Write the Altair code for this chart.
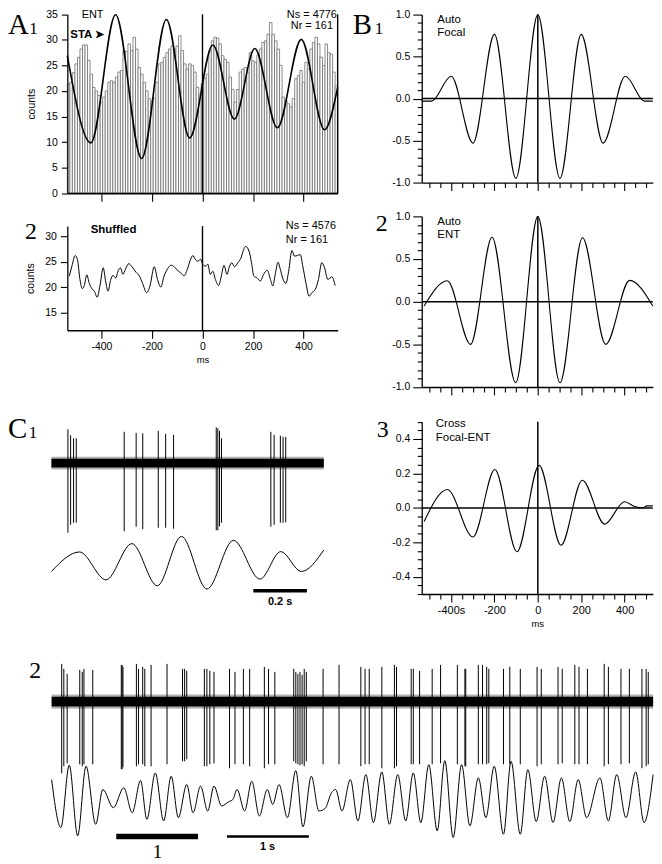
import altair as alt
import pandas as pd

W, H = 650, 856
SANS = "Liberation Sans"
SERIF = "Liberation Serif"
MINUS_FIX = "replace(datum.label, '\u2212', '-')"

# ======================= DATA =======================
# A1 : ENT spike histogram (10 ms bins) and STA
A1_BIN_LEFT = list(range(-535, 535, 10))
A1_BIN_WIDTH = 10
A1_COUNTS = [21.4, 21.7, 23.6, 25.3, 26.6, 28.2, 29.0, 29.0, 26.0, 23.3,
             20.7, 20.0,
             19.1, 17.8, 18.8, 20.0, 21.7, 22.0, 21.7, 22.7, 23.7,
             24.0, 27.9, 27.7, 29.2, 27.9, 30.5, 28.2, 24.6, 23.3, 21.7, 20.0,
             18.5, 18.0,
             18.6, 21.7, 25.3, 25.6, 26.6, 27.5, 28.2, 28.8, 28.2,
             28.8, 30.8, 27.9, 25.3, 24.3, 25.3, 25.0, 23.7, 20.7, 19.4,
             21.4, 22.5,
             23.3, 27.9, 29.8, 30.5, 30.3, 29.2, 26.9, 26.2, 25.6,
             22.7, 20.3, 17.8, 20.3, 23.7, 24.3, 24.6, 23.7, 27.5, 25.9,
             25.6, 27.0,
             28.2, 29.5, 29.8, 31.1, 33.4, 31.1, 29.8, 28.2, 25.0,
             18.8, 18.1, 17.5, 16.9, 18.5, 22.4, 23.0, 24.0, 21.7, 25.6, 24.3,
             28.2, 29.5,
             30.5, 29.2, 26.6, 25.0, 29.2, 27.5, 27.2,
             23.7, 21.0]
A1_STA_MS = [-535, -442, -344, -241, -143, -51, 41, 126, 207, 296, 391, 483, 535]
A1_STA = [26.9, 9.85, 34.9, 6.8, 34.0, 10.8, 29.0, 14.5, 28.3, 12.8, 30.1, 12.4, 20.7]

# A2 : shuffled histogram (smoothed)
A2_MS = [-527, -517, -504, -495, -485, -476, -468, -458, -448, -438, -428, -417, -406, -393,
         -383, -374, -363, -354, -344, -333, -325, -315, -305, -292, -279, -263, -250, -237,
         -221, -208, -191, -178, -165, -152, -138, -125, -112, -99, -86, -73, -60, -47, -38,
         -28, -17, -8, 1, 12, 21, 31, 41, 51, 64, 73, 85, 97, 107, 116, 127, 140, 152, 163,
         171, 184, 194, 203, 216, 229, 242, 256, 269, 278, 288, 299, 308, 317, 330, 341, 354,
         364, 376, 387, 397, 409, 422, 433, 446, 459, 472, 483, 496, 512, 525]
A2_COUNTS = [22.2, 24.1, 26.2, 25.4, 21.5, 19.7, 20.3, 22.4, 20.7, 19.7, 19.2, 18.0, 20.2, 23.8,
             21.0, 19.2, 21.5, 22.3, 21.8, 23.3, 23.8, 22.5, 23.5, 24.6, 24.0, 22.9, 22.2, 20.7,
             18.9, 20.2, 24.0, 21.5, 20.0, 22.2, 23.6, 24.3, 24.0, 23.3, 22.8, 22.2, 23.5, 25.5,
             26.2, 25.4, 25.1, 25.5, 24.5, 24.1, 24.5, 22.5, 23.1, 21.5, 20.3, 21.8, 24.3, 22.5,
             24.1, 24.8, 24.0, 24.8, 25.7, 27.4, 28.0, 27.1, 24.8, 22.2, 21.8, 21.2, 22.5, 23.3,
             21.5, 20.2, 22.5, 24.9, 23.5, 21.8, 20.7, 23.1, 27.2, 26.1, 26.2, 26.4, 24.1, 20.9,
             18.2, 18.9, 19.5, 21.5, 24.8, 23.8, 21.5, 22.0, 20.3]

# B : correlation functions
B1_MS = [-535, -490, -399, -299, -200, -101, 0, 102, 200, 301, 403, 492, 530]
B1_R = [-0.03, -0.03, 0.266, -0.53, 0.765, -0.95, 1.0, -0.95, 0.765, -0.53, 0.266, -0.03, -0.03]
B2_MS = [-524, -417, -310, -211, -102, 0, 102, 206, 313, 423, 530]
B2_R = [-0.05, 0.245, -0.5, 0.755, -0.95, 1.0, -0.95, 0.75, -0.5, 0.25, -0.05]
B3_MS = [-524, -417, -299, -198, -96, 6, 107, 205, 308, 400, 446, 483, 503, 530]
B3_R = [-0.079, 0.107, -0.169, 0.223, -0.255, 0.247, -0.217, 0.161, -0.094, 0.036, 0.008, 0.0, 0.012, 0.012]

# C1 : 1 s of unit activity (s) and filtered field
C1_DUR = 1.016
C1_NOISE = 4.5
C1_SPIKE_T = [0.0615, 0.0715, 0.0826, 0.0926, 0.2715, 0.316, 0.3407, 0.3985, 0.426, 0.4556,
              0.6148, 0.6207, 0.627, 0.6344, 0.8185, 0.8307, 0.854, 0.864, 0.874]
C1_SPIKE_UP = [34, 28, 25, 25, 31.5, 30.5, 30, 32.5, 29.5, 28.5, 36, 35, 32.5, 25, 31.5, 28.5,
               27.5, 26.5, 26.5]
C1_SPIKE_DN = [-70, -62, -60, -60, -68.5, -64, -66.5, -65, -65, -66, -67.5, -67.5, -63.5, -60,
               -64, -62, -60, -60, -59.5]
C1_LFP_T = [0.0, 0.1048, 0.2037, 0.300, 0.3949, 0.485, 0.580, 0.679, 0.7778, 0.8556, 0.932, 1.016]
C1_LFP_V = [-9.3, 10.3, -17.7, 18.7, -23.7, 26.0, -27.0, 22.0, -17.0, 10.7, -9.3, 12.3]
C1_BAR = [0.753, 0.953]
C1_BAR_V = -28.7

# C2 : 7.4 s of unit activity and filtered field
C2_DUR = 7.38
C2_NOISE = 5.0
C2_SPIKE_T = [0.1237, 0.1495, 0.1906, 0.3451, 0.3760, 0.3966, 0.5046, 0.8547, 0.8650, 0.8753,
              1.0400, 1.0658, 1.1173, 1.1430, 1.2202, 1.4158, 1.6063, 1.6320, 1.6578, 1.8740,
              1.9049, 1.9409, 1.9924, 2.1828, 2.2497, 2.3527, 2.4299, 2.6101, 2.6615, 2.7387,
              2.9704, 2.9961, 3.0219, 3.0476, 3.0734, 3.0991, 3.1249, 3.3308, 3.5264, 3.7941,
              3.8456, 3.8971, 4.0515, 4.2059, 4.2317, 4.4118, 4.4376, 4.5148, 4.6692, 4.7722,
              4.9781, 5.0707, 5.0810, 5.2355, 5.2869, 5.3384, 5.3642, 5.5444, 5.6216, 5.7503,
              5.9562, 6.0077, 6.2136, 6.2651, 6.4195, 6.4710, 6.5740, 6.7799, 6.8314, 6.9858,
              7.0888, 7.2432, 7.2947, 7.3205]
C2_SPIKE_UP = [38, 33, 28, 32, 30, 33, 32, 37, 37, 35, 38, 33, 35, 33, 37, 38, 33, 33, 31, 33,
               33, 31, 30, 33, 30, 33, 33, 35, 33, 30, 33, 30, 28, 30, 27, 33, 30, 33, 37, 35,
               33, 33, 35, 37, 35, 33, 33, 31, 33, 37, 37, 33, 33, 37, 37, 35, 33, 33, 35, 33,
               35, 33, 35, 33, 37, 35, 33, 38, 35, 33, 33, 33, 33, 30]
C2_SPIKE_DN = [-72, -65, -62, -63, -65, -63, -63, -68, -68, -66, -65, -63, -63, -65, -65, -63,
               -60, -60, -58, -65, -65, -63, -62, -67, -63, -63, -65, -67, -63, -63, -60, -62,
               -63, -64, -63, -65, -60, -63, -63, -65, -63, -63, -67, -67, -65, -63, -63, -63,
               -63, -62, -63, -65, -65, -63, -63, -63, -62, -63, -63, -63, -65, -63, -63, -62,
               -63, -63, -63, -65, -63, -63, -62, -67, -65, -63]
C2_LFP_T = [0.0, 0.1134, 0.2164, 0.3193, 0.4223, 0.5407, 0.6282, 0.7569, 0.8856, 0.9886,
            1.0915, 1.1688, 1.2717, 1.3746, 1.4673, 1.5548, 1.6578, 1.7350, 1.8276, 1.9151,
            1.9924, 2.0850, 2.1725, 2.2240, 2.2755, 2.3681, 2.4556, 2.5483, 2.6461, 2.7130,
            2.7902, 2.8932, 2.9961, 3.0837, 3.1866, 3.2793, 3.3565, 3.4337, 3.4852, 3.5624,
            3.6653, 3.7580, 3.8558, 3.9484, 4.0514, 4.1441, 4.2470, 4.3448, 4.4375, 4.5302,
            4.628, 4.731, 4.824, 4.927, 5.030, 5.132, 5.236, 5.328, 5.431, 5.544, 5.637, 5.750,
            5.843, 5.946, 6.049, 6.152, 6.255, 6.358, 6.461, 6.564, 6.728, 6.831, 6.934, 7.047,
            7.166, 7.269, 7.38]
C2_LFP_V = [18.3, -30, 32.7, -38.3, 31.7, -26.7, 8.3, -10, 10, -15, 17.3, -21.7, 25, -23.3,
            21.7, -20, 13.3, -15, 11.7, -13.3, 11.7, -8.3, -4, -1.7, 8.3, -13.3, 16.7, -18.3,
            8.3, -6.7, 13.3, -20, 27.3, -29.3, 21.7, -13.3, -10.7, 5, 8.3, -13.3, 18.3, -23.3,
            23.3, -25, 26, -26.7, 23.3, -23.3, 25, -25, 33.3, -33.3, 37.3, -40, 33.3, -28.3,
            20, -20, 31.7, -36.7, 36.7, -36.7, 28.3, -24, 21.7, -25, 20, -24, 18.3, -20, 20,
            -23.3, 23.3, -20, 26, -25, 23.3]
C2_BAR_THICK = [0.793, 1.796]
C2_BAR_THIN = [2.152, 3.156]
C2_BAR_V = -39

# ======================= LAYOUT (pixels) =======================
A_DOM = [-535, 535]
A_X = [59.7, 331.7]
A1_Y = [183.7, 3.7]
A2_Y = [321.6, 216.8]
B_DOM = [-535, 530]
B_X = [416.3, 648.8]
B1_Y = [173, 4]
B2_Y = [378.7, 207]
B3_Y = [587, 413.7]
C1_X = [43.7, 317.75]
C1S_Y = [535.3, 415.3]
C1L_Y = [605, 525]
C2_X = [43.9, 649.1]
C2S_Y = [775.3, 645.3]
C2L_Y = [852, 747]

MS_TICKS = [-400, -200, 0, 200, 400]
MS_MINOR = [-500, -450, -350, -300, -250, -150, -100, -50, 50, 100, 150, 250, 300, 350, 450, 500]
R_TICKS = [-1.0, -0.5, 0.0, 0.5, 1.0]
R_MINOR = [-0.9, -0.8, -0.7, -0.6, -0.4, -0.3, -0.2, -0.1, 0.1, 0.2, 0.3, 0.4, 0.6, 0.7, 0.8, 0.9]
X_TICKS = [-0.4, -0.2, 0.0, 0.2, 0.4]
X_MINOR = [-0.5, -0.45, -0.35, -0.3, -0.25, -0.15, -0.1, -0.05, 0.05, 0.1, 0.15, 0.25, 0.3,
           0.35, 0.45, 0.5]


def ax(orient, off, values, labels=True, tick=8, **kw):
    d = dict(orient=orient, offset=off, values=values, labels=labels, tickSize=tick,
             title=None, grid=False, domainColor='black', tickColor='black',
             labelColor='black', labelFont=SANS, labelFontSize=10.5,
             domainWidth=1.3, tickWidth=1.1, labelPadding=3, zindex=1)
    d.update(kw)
    return alt.Axis(**d)


def lin(dom, rng):
    return alt.Scale(domain=dom, range=rng, zero=False, nice=False)


def texts(df, xs, ys, **mk):
    base = dict(font=SANS, fontSize=11, color='black', baseline='middle')
    base.update(mk)
    return alt.Chart(df).mark_text(**base).encode(
        x=alt.X('x:Q', scale=xs), y=alt.Y('y:Q', scale=ys), text='t:N')


# ---------------- A1 ----------------
a1x, a1y = lin(A_DOM, A_X), lin([0, 35], A1_Y)
df_a1 = pd.DataFrame({'left': A1_BIN_LEFT,
                      'right': [b + A1_BIN_WIDTH for b in A1_BIN_LEFT],
                      'count': A1_COUNTS, 'base': [0] * len(A1_COUNTS)})
a1_bars = alt.Chart(df_a1).mark_rect(fill='white', stroke='#6e6e6e', strokeWidth=0.8).encode(
    x=alt.X('left:Q', scale=a1x,
            axis=ax('bottom', A1_Y[0] - H, MS_TICKS, labels=False, tick=8, domainWidth=1.8)),
    x2='right:Q',
    y=alt.Y('count:Q', scale=a1y,
            axis=ax('left', -A_X[0], [0, 5, 10, 15, 20, 25, 30, 35], tick=6, labelPadding=4,
                    title='counts', titleFont=SANS, titleFontSize=10.5, titleFontWeight='normal',
                    titleColor='black', titlePadding=9)),
    y2='base:Q')
a1_sta = alt.Chart(pd.DataFrame({'ms': A1_STA_MS, 'v': A1_STA})).mark_line(
    color='black', strokeWidth=1.6, interpolate='monotone').encode(
    x=alt.X('ms:Q', scale=a1x), y=alt.Y('v:Q', scale=a1y))
a1_rules = alt.Chart(pd.DataFrame({'x': [0, A_DOM[1]], 'y1': [0, 0], 'y2': [35, 35]})).mark_rule(
    color='black', strokeWidth=1.4).encode(
    x=alt.X('x:Q', scale=a1x), y=alt.Y('y1:Q', scale=a1y), y2='y2:Q')
a1_t1 = texts(pd.DataFrame({'x': [-435, 433, 433], 'y': [34.94, 34.94, 32.7],
                            't': ['ENT', 'Ns = 4776', 'Nr = 161']}), a1x, a1y, align='center')
a1_t2 = texts(pd.DataFrame({'x': [-523], 'y': [31.0], 't': ['STA \u27a4']}), a1x, a1y,
              align='left', fontWeight='bold', fontSize=11.5)
A1 = alt.layer(a1_bars, a1_sta, a1_rules, a1_t1, a1_t2)

# ---------------- A2 ----------------
a2x, a2y = lin(A_DOM, A_X), lin([11.5, 32], A2_Y)
a2_line = alt.Chart(pd.DataFrame({'ms': A2_MS, 'v': A2_COUNTS})).mark_line(
    color='black', strokeWidth=1.0, interpolate='monotone').encode(
    x=alt.X('ms:Q', scale=a2x,
            axis=ax('bottom', A2_Y[0] - H, MS_TICKS, tick=8, labelExpr=MINUS_FIX, title='ms',
                    titleFont=SANS, titleFontSize=9.5, titleFontWeight='normal',
                    titleColor='black', titlePadding=3)),
    y=alt.Y('v:Q', scale=a2y,
            axis=ax('left', -A_X[0], [15, 20, 25, 30], tick=7, labelPadding=4, title='counts',
                    titleFont=SANS, titleFontSize=10.5, titleFontWeight='normal',
                    titleColor='black', titlePadding=9)))
a2_rule = alt.Chart(pd.DataFrame({'x': [0], 'y1': [11.5], 'y2': [32]})).mark_rule(
    color='black', strokeWidth=1.4).encode(
    x=alt.X('x:Q', scale=a2x), y=alt.Y('y1:Q', scale=a2y), y2='y2:Q')
a2_t1 = texts(pd.DataFrame({'x': [-352], 'y': [31.3], 't': ['Shuffled']}), a2x, a2y,
              align='center', fontWeight='bold', fontSize=11.5)
a2_t2 = texts(pd.DataFrame({'x': [330, 330], 'y': [32.0, 29.2],
                            't': ['Ns = 4576', 'Nr = 161']}), a2x, a2y, align='left')
A2 = alt.layer(a2_line, a2_rule, a2_t1, a2_t2)


# ---------------- B panels ----------------
def b_panel(ms, r, yrng, ydom, yticks, ylab, xlabels, words, wx, wy, last=False):
    bx, by = lin(B_DOM, B_X), lin(ydom, yrng)
    xkw = dict(labelExpr="datum.value == -400 ? '-400s' : " + MINUS_FIX, title='ms',
               titleFont=SANS, titleFontSize=9.5, titleFontWeight='normal', titleColor='black',
               titlePadding=3, labelFontSize=11) if last else {}
    line = alt.Chart(pd.DataFrame({'ms': ms, 'r': r})).mark_line(
        color='black', strokeWidth=1.1, interpolate='monotone').encode(
        x=alt.X('ms:Q', scale=bx, axis=ax('bottom', yrng[0] - H, MS_TICKS, labels=xlabels,
                                            tick=8, **xkw)),
        y=alt.Y('r:Q', scale=by, axis=ax('left', -B_X[0], yticks, tick=9, labelExpr=ylab)))
    hr = alt.Chart(pd.DataFrame({'y': [0], 'x1': [B_DOM[0]], 'x2': [B_DOM[1]]})).mark_rule(
        color='black', strokeWidth=1.5).encode(
        y=alt.Y('y:Q', scale=by), x=alt.X('x1:Q', scale=bx), x2='x2:Q')
    vr = alt.Chart(pd.DataFrame({'x': [0], 'y1': [ydom[0]], 'y2': [ydom[1]]})).mark_rule(
        color='black', strokeWidth=1.5).encode(
        x=alt.X('x:Q', scale=bx), y=alt.Y('y1:Q', scale=by), y2='y2:Q')
    tx = texts(pd.DataFrame({'x': [wx, wx], 'y': wy, 't': words}), bx, by, align='left',
               fontSize=11.5)
    return alt.layer(line, hr, vr, tx)


def b_minor(yrng, ydom, yminor):
    bx, by = lin(B_DOM, B_X), lin(ydom, yrng)
    return alt.Chart(pd.DataFrame({'ms': [0], 'r': [0]})).mark_point(opacity=0).encode(
        x=alt.X('ms:Q', scale=bx, axis=ax('bottom', yrng[0] - H, MS_MINOR, labels=False,
                                            tick=5, domain=False)),
        y=alt.Y('r:Q', scale=by, axis=ax('left', -B_X[0], yminor, labels=False, tick=4.5,
                                           domain=False)))


YLAB = "replace(format(datum.value, '.1f'), '\u2212', '-')"
B1 = b_panel(B1_MS, B1_R, B1_Y, [-1, 1], R_TICKS, YLAB, False, ['Auto', 'Focal'],
             -463, [0.933, 0.776])
B2 = b_panel(B2_MS, B2_R, B2_Y, [-1, 1], R_TICKS, YLAB, False, ['Auto', 'ENT'],
             -463, [0.93, 0.78])
B3 = b_panel(B3_MS, B3_R, B3_Y, [-0.5, 0.5], X_TICKS, YLAB, True, ['Cross', 'Focal-ENT'],
             -470, [0.487, 0.407], last=True)
B1m = b_minor(B1_Y, [-1, 1], R_MINOR)
B2m = b_minor(B2_Y, [-1, 1], R_MINOR)
B3m = b_minor(B3_Y, [-0.5, 0.5], X_MINOR)


# ---------------- C panels ----------------
def trace_panels(dur, xr, sy, ly, ydom_s, ydom_l, noise, st, su, sd, lt, lv):
    cx = lin([0, dur], xr)
    cs = lin(ydom_s, sy)
    cl = lin(ydom_l, ly)
    band = alt.Chart(pd.DataFrame({'t0': [0], 't1': [dur], 'lo': [-noise], 'hi': [noise]})
                     ).mark_rect(color='black').encode(
        x=alt.X('t0:Q', scale=cx, axis=None), x2='t1:Q',
        y=alt.Y('lo:Q', scale=cs, axis=None), y2='hi:Q')
    fringe = alt.Chart(pd.DataFrame({'t0': [0], 't1': [dur], 'lo': [-noise * 1.45],
                                     'hi': [noise * 1.45]})).mark_rect(
        color='black', opacity=0.3).encode(
        x=alt.X('t0:Q', scale=cx, axis=None), x2='t1:Q',
        y=alt.Y('lo:Q', scale=cs, axis=None), y2='hi:Q')
    spikes = alt.Chart(pd.DataFrame({'t': st, 'up': su, 'dn': sd})).mark_rule(
        color='black', strokeWidth=1).encode(
        x=alt.X('t:Q', scale=cx, axis=None), y=alt.Y('up:Q', scale=cs, axis=None), y2='dn:Q')
    lfp = alt.Chart(pd.DataFrame({'t': lt, 'v': lv})).mark_line(
        color='black', strokeWidth=1, interpolate='monotone').encode(
        x=alt.X('t:Q', scale=cx, axis=None), y=alt.Y('v:Q', scale=cl, axis=None))
    return alt.layer(fringe, band, spikes), cx, cl, lfp


C1S, c1x, c1l, c1_lfp = trace_panels(C1_DUR, C1_X, C1S_Y, C1L_Y, [-80, 40], [-50, 30], C1_NOISE,
                                     C1_SPIKE_T, C1_SPIKE_UP, C1_SPIKE_DN, C1_LFP_T, C1_LFP_V)
c1_bar = alt.Chart(pd.DataFrame({'a': [C1_BAR[0]], 'b': [C1_BAR[1]], 'v': [C1_BAR_V]})).mark_rule(
    color='black', strokeWidth=3.5).encode(
    x=alt.X('a:Q', scale=c1x, axis=None), x2='b:Q', y=alt.Y('v:Q', scale=c1l, axis=None))
c1_txt = alt.Chart(pd.DataFrame({'x': [0.853], 'y': [-40], 't': ['0.2 s']})).mark_text(
    font=SANS, fontSize=11, fontWeight='bold', align='center', baseline='middle').encode(
    x=alt.X('x:Q', scale=c1x, axis=None), y=alt.Y('y:Q', scale=c1l, axis=None), text='t:N')
C1L = alt.layer(c1_lfp, c1_bar, c1_txt)

C2S, c2x, c2l, c2_lfp = trace_panels(C2_DUR, C2_X, C2S_Y, C2L_Y, [-80, 50], [-60, 45], C2_NOISE,
                                     C2_SPIKE_T, C2_SPIKE_UP, C2_SPIKE_DN, C2_LFP_T, C2_LFP_V)
c2_bar1 = alt.Chart(pd.DataFrame({'a': [C2_BAR_THICK[0]], 'b': [C2_BAR_THICK[1]],
                                  'v': [C2_BAR_V]})).mark_rule(
    color='black', strokeWidth=5.5).encode(
    x=alt.X('a:Q', scale=c2x, axis=None), x2='b:Q', y=alt.Y('v:Q', scale=c2l, axis=None))
c2_bar2 = alt.Chart(pd.DataFrame({'a': [C2_BAR_THIN[0]], 'b': [C2_BAR_THIN[1]],
                                  'v': [C2_BAR_V]})).mark_rule(
    color='black', strokeWidth=2.5).encode(
    x=alt.X('a:Q', scale=c2x, axis=None), x2='b:Q', y=alt.Y('v:Q', scale=c2l, axis=None))
c2_t1 = alt.Chart(pd.DataFrame({'x': [1.298], 'y': [-55], 't': ['1']})).mark_text(
    font=SERIF, fontSize=19, align='center', baseline='middle').encode(
    x=alt.X('x:Q', scale=c2x, axis=None), y=alt.Y('y:Q', scale=c2l, axis=None), text='t:N')
c2_t2 = alt.Chart(pd.DataFrame({'x': [2.65], 'y': [-50], 't': ['1 s']})).mark_text(
    font=SANS, fontSize=11, fontWeight='bold', align='center', baseline='middle').encode(
    x=alt.X('x:Q', scale=c2x, axis=None), y=alt.Y('y:Q', scale=c2l, axis=None), text='t:N')
C2L = alt.layer(c2_lfp, c2_bar1, c2_bar2, c2_t1, c2_t2)

# ---------------- panel letters ----------------
LETTERS = pd.DataFrame({
    't': ['A', '1', '2', 'B', '1', '2', '3', 'C', '1', '2'],
    'px': [0, 21.5, 17, 347, 369, 370, 371, 0, 21, 21.5],
    'py': [23.5, 23.5, 230, 23.5, 23.5, 222, 429, 430, 430, 672],
    'fs': [29, 17, 24, 29, 17, 24, 24, 29, 17, 24]})
letters = alt.Chart(LETTERS).mark_text(font=SERIF, align='left', baseline='alphabetic',
                                       color='black').encode(
    x=alt.X('px:Q', scale=None, axis=None), y=alt.Y('py:Q', scale=None, axis=None),
    text='t:N', size=alt.Size('fs:Q', scale=None, legend=None))

chart = alt.layer(A1, A2, B1, B1m, B2, B2m, B3, B3m, C1S, C1L, C2S, C2L, letters).resolve_scale(
    x='independent', y='independent').properties(
    width=W, height=H, padding=0, autosize=alt.AutoSizeParams(type='none')
).configure_view(stroke=None)

chart.save("out.html", embed_options={"renderer": "svg", "actions": False})
